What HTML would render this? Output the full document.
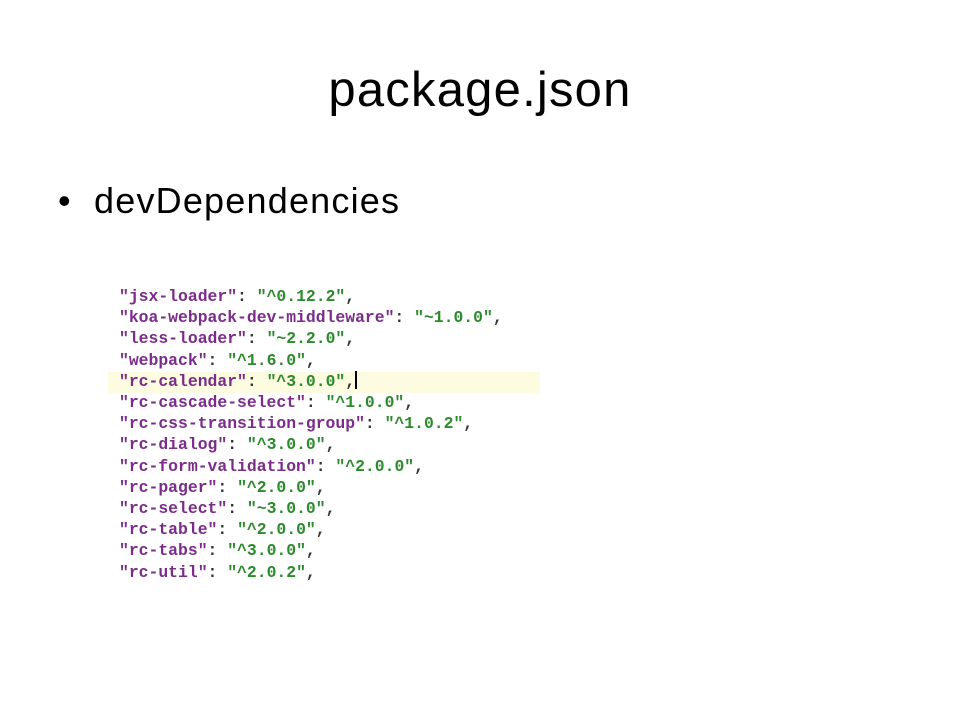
<!DOCTYPE html>
<html><head><style>
body{margin:0;width:960px;height:720px;background:#fff;position:relative;overflow:hidden;font-family:"Liberation Sans",sans-serif}
h1{position:absolute;top:62px;left:0;width:960px;text-align:center;font-weight:normal;font-size:49px;letter-spacing:1.2px;margin:0;color:#000}
.b{position:absolute;left:58px;top:180px;font-size:36px;color:#000}
.b span{position:absolute;left:36px;top:0;letter-spacing:1.2px;white-space:nowrap}
.hl{position:absolute;left:108px;top:372px;width:432px;height:21px;background:#fdfbe0}
pre{position:absolute;left:119px;top:286px;margin:0;font-family:"Liberation Mono",monospace;font-weight:bold;font-size:16.4px;line-height:21.2px;color:#333}
.k{color:#7b2c8b}.v{color:#2b8a2b}
.cur{display:inline-block;width:2px;height:18px;background:#000;vertical-align:-3px}
</style></head><body>
<h1>package.json</h1>
<div class="b">•<span>devDependencies</span></div>
<div class="hl"></div>
<pre><span class="k">"jsx-loader"</span>: <span class="v">"^0.12.2"</span>,
<span class="k">"koa-webpack-dev-middleware"</span>: <span class="v">"~1.0.0"</span>,
<span class="k">"less-loader"</span>: <span class="v">"~2.2.0"</span>,
<span class="k">"webpack"</span>: <span class="v">"^1.6.0"</span>,
<span class="k">"rc-calendar"</span>: <span class="v">"^3.0.0"</span>,<span class="cur"></span>
<span class="k">"rc-cascade-select"</span>: <span class="v">"^1.0.0"</span>,
<span class="k">"rc-css-transition-group"</span>: <span class="v">"^1.0.2"</span>,
<span class="k">"rc-dialog"</span>: <span class="v">"^3.0.0"</span>,
<span class="k">"rc-form-validation"</span>: <span class="v">"^2.0.0"</span>,
<span class="k">"rc-pager"</span>: <span class="v">"^2.0.0"</span>,
<span class="k">"rc-select"</span>: <span class="v">"~3.0.0"</span>,
<span class="k">"rc-table"</span>: <span class="v">"^2.0.0"</span>,
<span class="k">"rc-tabs"</span>: <span class="v">"^3.0.0"</span>,
<span class="k">"rc-util"</span>: <span class="v">"^2.0.2"</span>,</pre>
</body></html>
